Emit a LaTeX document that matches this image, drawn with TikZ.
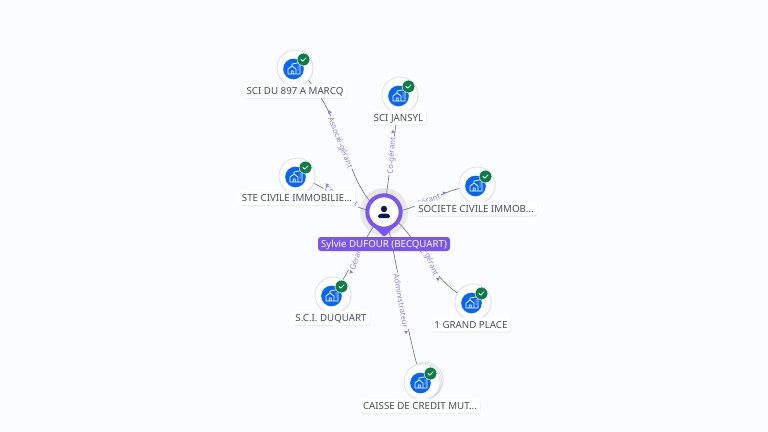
\documentclass[tikz,border=0pt]{standalone}
\usepackage{fontspec}
\setmainfont{Noto Sans}
\usetikzlibrary{backgrounds,shadows,shapes.geometric}
\definecolor{pagebg}{HTML}{FAFCFF}
\definecolor{inkblue}{HTML}{0A66F0}
\definecolor{okgreen}{HTML}{0E7C46}
\definecolor{pinviolet}{HTML}{7A55EE}
\definecolor{edgeviolet}{HTML}{9182EA}
\definecolor{plateink}{HTML}{474C70}
\definecolor{lineink}{HTML}{767B8A}
\definecolor{personink}{HTML}{0C1A4E}
\begin{document}
\begin{tikzpicture}[x=0.75pt,y=-0.75pt,
    softshadow/.style={drop shadow={shadow xshift=0.4pt,shadow yshift=-0.8pt,opacity=0.10,fill=black!60}},
    disc/.style={circle,fill=white,draw=black!12,line width=0.6pt,minimum size=27pt,inner sep=0pt,softshadow},
    bluedot/.style={circle,fill=inkblue,minimum size=15.5pt,inner sep=0pt},
    badge/.style={circle,fill=okgreen,draw=white,line width=0.3pt,minimum size=9.5pt,inner sep=0pt},
    plate/.style={rounded corners=2pt,fill=white,inner xsep=2.4pt,inner ysep=2.6pt,text height=5.3pt,text depth=0pt,font=\fontsize{7.3}{8}\selectfont,text=plateink,softshadow},
    link/.style={draw=lineink,line width=0.5pt},
    edgetext/.style={fill=pagebg,inner xsep=1pt,inner ysep=0.4pt,font=\fontsize{5.8}{6}\selectfont,text=edgeviolet},
    edgetip/.style={regular polygon,regular polygon sides=3,fill=pinviolet!80,inner sep=0pt,minimum size=3.4pt}]
  % Discs stacked behind the last company
  \node[disc] (caisseback) at (425,380) {};
  \node[disc] (caissemid) at (423.5,381) {};
  % Companies
  \foreach \id/\x/\y/\lx/\ly/\name in {
      marcq/295/68/295/91/{SCI DU 897 A MARCQ},
      jansyl/400/95/398.5/117.5/{SCI JANSYL},
      ste/297/176/297/198/{STE CIVILE IMMOBILIE...},
      societe/477/185/476/208.5/{SOCIETE CIVILE IMMOB...},
      duquart/333/295/331/318/{S.C.I. DUQUART},
      grand/473/302/471/324.5/{1 GRAND PLACE},
      caisse/422/382/420/406/{CAISSE DE CREDIT MUT...}}{
    \node[disc] (\id) at (\x,\y) {};
    \node[bluedot] (\id dot) at (\x-1.5,\y+1) {};
    \draw[white,line width=0.55pt,line join=round]
      (\x-7,\y+6) -- (\x-7,\y+1) -- (\x-3,\y-2) -- (\x+1,\y+1) -- (\x+1,\y+6) -- cycle
      (\x-3.8,\y+6) -- (\x-3.8,\y+3) -- (\x-1.8,\y+3) -- (\x-1.8,\y+6)
      (\x-3,\y-2.5) -- (\x-3,\y-4) -- (\x+5,\y-5.5) -- (\x+5,\y+6) -- (\x+1,\y+6)
      (\x+2.5,\y-2) -- (\x+3.5,\y-2) (\x+2.5,\y) -- (\x+3.5,\y) (\x+2.5,\y+2) -- (\x+3.5,\y+2);
    \node[badge] (\id badge) at (\x+8.5,\y-8.5) {};
    \draw[white,line width=0.6pt,line cap=round,line join=round]
      (\x+6,\y-8.5) -- (\x+7.8,\y-6.8) -- (\x+11,\y-10.2);
    \node[plate] (\id plate) at (\lx,\ly) {\name};
  }
  % Person pin
  \fill[pinviolet,rounded corners=1pt] (370,223) -- (384,237) -- (398,223) -- cycle;
  \node[circle,fill=white,draw=pinviolet,line width=3pt,minimum size=25pt,inner sep=0pt] (person) at (384,212) {};
  \fill[personink] (384,209) circle (3.2);
  \fill[personink,rounded corners=1pt] (378,218) -- (378,215) -- (381,213.5) -- (387,213.5) -- (390,215) -- (390,218) -- cycle;
  \node[fill=pinviolet,rounded corners=2.2pt,text=white,minimum width=99pt,inner xsep=0pt,inner ysep=2.6pt,text height=5.3pt,text depth=0pt,
    font=\fontsize{7.25}{8}\selectfont] (personplate) at (384,244) {Sylvie DUFOUR (BECQUART)};
  \begin{scope}[on background layer]
    \fill[pagebg] (0,0) rectangle (768,432);
    \fill[black!9] (384,212) circle (24);
    % Connectors
    \draw[link] (person.center) .. controls (345,195) and (345,105) .. (marcq.center);
    \draw[link] (person.center) -- (jansyl.center);
    \draw[link] (person.center) .. controls (350,212) and (335,190) .. (ste.center);
    \draw[link] (person.center) .. controls (415,214) and (435,190) .. (societe.center);
    \draw[link] (person.center) .. controls (362,240) and (352,268) .. (duquart.center);
    \draw[link] (person.center) .. controls (420,232) and (425,280) .. (grand.center);
    \draw[link] (person.center) .. controls (396,250) and (405,330) .. (caisse.center);
    % Edge labels and their tips
    \foreach \id/\x/\y/\rot/\tx/\ty/\trot/\txt in {
        marcq/340/143/-68/329.5/112/20/{Associé-gérant},
        jansyl/392/156/86/393/132/0/{Co-gérant},
        ste/341/197/-28/327/185/40/{Co-gérant},
        societe/428/200/20/444/193/-70/{Gérant},
        duquart/356/258/72/351/272/20/{Gérant},
        grand/429/259/-68/438/279/180/{Co-gérant},
        caisse/401/301/-80/406/332/180/{Administrateur}}{
      \node[edgetext,rotate=\rot] (\id text) at (\x,\y) {\txt};
      \node[edgetip,rotate=\trot] (\id tip) at (\tx,\ty) {};
    }
  \end{scope}
  \useasboundingbox (0,0) rectangle (768,432);
\end{tikzpicture}
\end{document}
